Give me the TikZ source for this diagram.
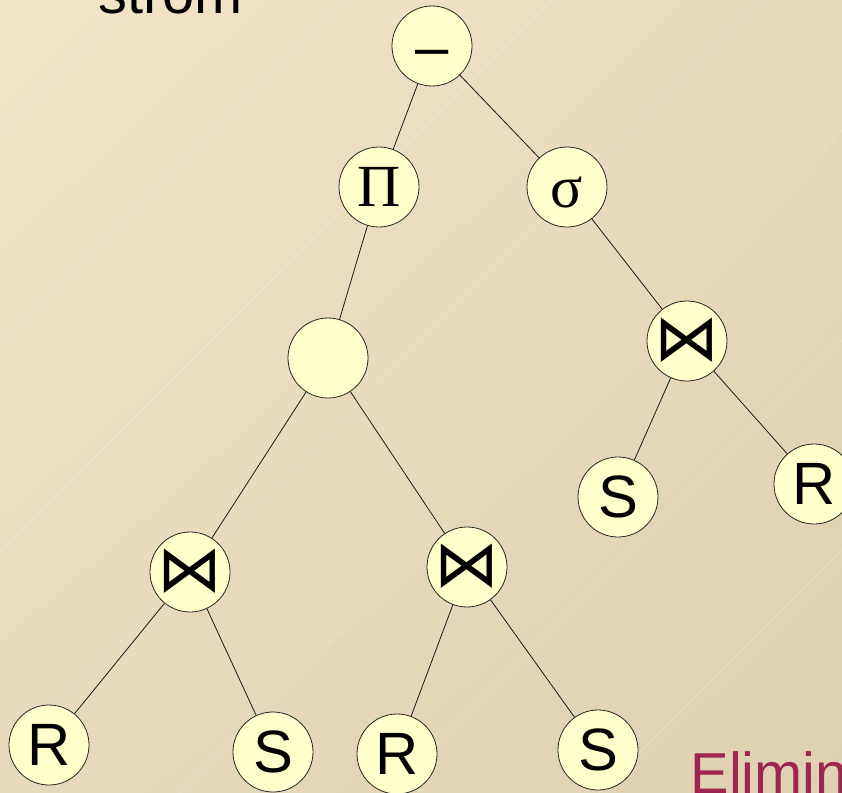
\documentclass[tikz,border=0pt]{standalone}
\usepackage{fontspec}
\setmainfont{Liberation Sans}
\newfontfamily\greekfont{Liberation Serif}
\newfontfamily\symbfont{DejaVu Sans}
\usepackage{tikz}
\usetikzlibrary{shadings}

\definecolor{bgtop}{RGB}{244,229,201}
\definecolor{bgmid}{RGB}{233,217,188}
\definecolor{bgbot}{RGB}{223,208,177}
\definecolor{opfill}{RGB}{255,255,204}
\definecolor{elimred}{RGB}{158,38,78}

\tikzset{
    op/.style={circle, draw=black!85, line width=0.8bp, fill=opfill,
        minimum size=80bp, inner sep=0pt, font=\fontsize{60}{60}\selectfont},
    greekop/.style={op, font=\greekfont\fontsize{60}{60}\selectfont},
    joinop/.style={op, font=\symbfont\fontsize{65}{65}\selectfont,
        text height=38bp, text depth=0bp},
    edge/.style={line width=0.8bp, black!90},
}

\begin{document}
\begin{tikzpicture}[x=1bp, y=-1bp]
        \useasboundingbox (0,0) rectangle (842,793);
        \clip (0,0) rectangle (842,793);
        \shade[upper left=bgtop, upper right=bgmid, lower left=bgmid, lower right=bgbot]
            (0,0) rectangle (842,793);
        \foreach \c in {132,342,...,1602}
            \draw[white, opacity=0.3, line width=0.6bp] (\c,0) -- (0,\c);

        \node[anchor=base west] (title) at (95,14) {\fontsize{58}{58}\selectfont strom};
        \node[anchor=base west, text=elimred] (elim) at (687,793) {\fontsize{58}{58}\selectfont Elimin};

        \node[op, text height=43bp, text depth=0bp] (diff) at (432,46) {–};
        \node[greekop] (proj) at (379,187) {Π};
        \node[greekop, text height=40bp, text depth=0bp] (sel) at (567,187) {σ};
        \node[op] (mid) at (328,358) {};
        \node[joinop] (joinl) at (190,572) {⋈};
        \node[joinop] (joinm) at (467,567) {⋈};
        \node[joinop] (joinr) at (687,341) {⋈};

        \node[op] (rl) at (49,745) {R};
        \node[op] (sl) at (273,752) {S};
        \node[op] (rm) at (397,754) {R};
        \node[op] (sm) at (598,750) {S};
        \node[op] (sr) at (618,497) {S};
        \node[op] (rr) at (814,484) {R};

        \draw[edge] (diff) -- (proj);
        \draw[edge] (diff) -- (sel);
        \draw[edge] (proj) -- (mid);
        \draw[edge] (sel) -- (joinr);
        \draw[edge] (joinr) -- (sr);
        \draw[edge] (joinr) -- (rr);
        \draw[edge] (mid) -- (joinl);
        \draw[edge] (mid) -- (joinm);
        \draw[edge] (joinl) -- (rl);
        \draw[edge] (joinl) -- (sl);
        \draw[edge] (joinm) -- (rm);
        \draw[edge] (joinm) -- (sm);
\end{tikzpicture}
\end{document}
